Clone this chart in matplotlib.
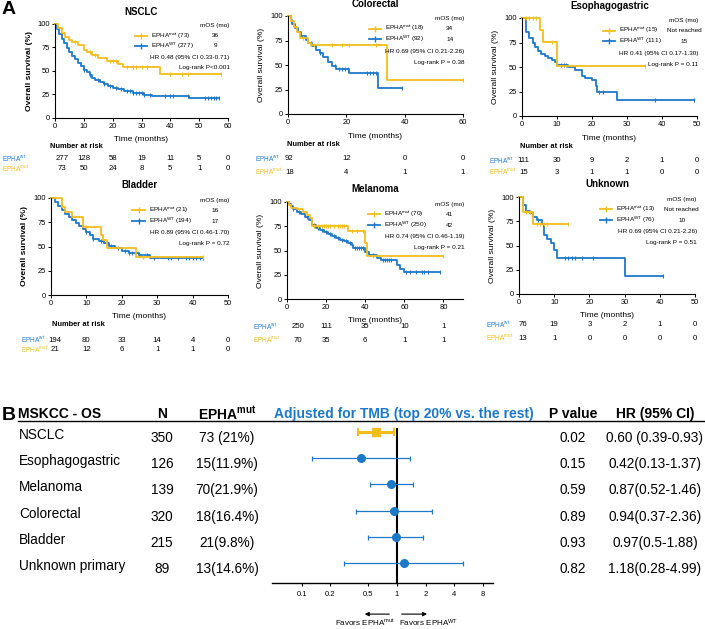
import numpy as np
import matplotlib
matplotlib.use('Agg')
import matplotlib.pyplot as plt
import matplotlib.transforms as mtransforms
from matplotlib.lines import Line2D

plt.rcParams['font.family'] = ['Liberation Sans', 'DejaVu Sans']
plt.rcParams['mathtext.fontset'] = 'custom'
plt.rcParams['mathtext.rm'] = 'Liberation Sans'
plt.rcParams['mathtext.it'] = 'Liberation Sans:italic'
plt.rcParams['mathtext.bf'] = 'Liberation Sans:bold'
plt.rcParams['mathtext.default'] = 'regular'

YEL = '#F2BE1C'
BLUE = '#1E78C8'
W, H = 705, 629

# ---------------- Panel A: Kaplan-Meier data ----------------
# NSCLC
nsclc_mut_t = [0, 1, 2.3, 3.5, 5, 6, 8, 10, 11, 13, 15, 18, 22, 23.5, 36.3]
nsclc_mut_s = [100, 95, 90, 86, 83, 80, 77, 72, 70, 67, 63, 60, 57, 54, 46]
nsclc_mut_cens = [7, 12, 14, 19, 20, 21, 25, 27, 28, 30, 32, 40, 44, 46, 57.5]
nsclc_wt_t = [0, 0.8, 1.5, 2.3, 3, 4, 5, 6, 7, 8, 9, 10, 11, 12, 13, 14, 15.5, 17, 18.5, 20, 22, 24, 27, 31, 33.5, 46.5]
nsclc_wt_s = [100, 94, 89, 84, 79, 74, 70, 66, 62, 58, 55, 51, 48, 45, 42, 40, 38, 36, 34, 32, 30, 28, 26, 24.5, 23, 20.5]
nsclc_wt_cens = [10, 12, 15, 17, 19, 21, 23, 25, 26, 27, 28, 29, 30, 31, 33, 38, 40, 41, 46, 52, 53, 54, 55, 56, 57]
nsclc_risk_wt = [277, 128, 58, 19, 11, 5, 0]
nsclc_risk_mut = [73, 50, 24, 8, 5, 1, 0]

# Colorectal
crc_mut_t = [0, 1, 2, 3, 4, 7, 8, 34]
crc_mut_s = [100, 94.4, 88.9, 83.3, 77.8, 72.2, 69.9, 35]
crc_mut_cens = [5, 9, 15, 18.5, 21, 30, 60]
crc_wt_t = [0, 1, 1.5, 2.5, 3.5, 4.5, 6, 7, 8.2, 9.7, 10.9, 12, 13.7, 15, 16.5, 21, 31]
crc_wt_s = [100, 96, 92, 88, 84, 80, 76, 72, 69, 65, 62, 58, 53, 49, 46, 41.5, 27]
crc_wt_cens = [8, 11, 16, 17.5, 18.5, 19.5, 20.5, 27, 28, 29, 30, 39]
crc_risk_wt = [92, 12, 0, 0]
crc_risk_mut = [18, 4, 1, 1]

# Esophagogastric
eg_mut_t = [0, 5, 6, 10]
eg_mut_s = [100, 88, 76, 51]
eg_mut_cens = [1, 2, 3, 4, 8.5, 35]
eg_wt_t = [0, 1, 2, 3, 3.7, 4.5, 5.5, 6.5, 7.5, 8.5, 9.5, 10, 13, 15, 17, 18, 20, 21, 21.5, 27]
eg_wt_s = [100, 86, 80, 75, 70, 66, 63, 61, 59, 57, 55, 52, 50, 47, 41, 39, 37, 31, 25, 16]
eg_wt_cens = [11, 12, 12.5, 22, 23, 38, 49]
eg_risk_wt = [111, 30, 9, 2, 1, 0]
eg_risk_mut = [15, 3, 1, 1, 0, 0]

# Bladder
bl_mut_t = [0, 3, 4, 6, 9, 14, 14.8, 15.8, 24]
bl_mut_s = [100, 90.5, 85.7, 80, 70, 62, 57, 48, 39.5]
bl_mut_cens = [10, 26, 43]
bl_wt_t = [0, 1, 2, 3, 4, 5, 6, 7, 8, 9, 10, 11, 12, 13.5, 15, 16.5, 18, 20, 22, 25, 28]
bl_wt_s = [100, 96, 92, 88, 84, 80, 77, 74, 71, 68, 65, 62, 58, 56, 54, 51, 48, 45, 43, 41.5, 38]
bl_wt_cens = [10, 12, 14, 17, 19, 21, 22, 23, 25, 27, 29, 33, 34, 36, 38, 39, 40, 41, 42, 43]
bl_risk_wt = [194, 80, 33, 14, 4, 0]
bl_risk_mut = [21, 12, 6, 1, 1, 0]

# Melanoma
mel_mut_t = [0, 1, 2, 5, 8, 10, 12, 13, 31, 40, 41]
mel_mut_s = [100, 97, 94, 93, 90, 87, 83, 75, 70, 58, 44]
mel_mut_cens = [14, 16, 18, 19, 20, 21, 22, 24, 26, 27, 28, 29, 33, 36, 39, 80]
mel_wt_t = [0, 1, 2, 3, 5, 7, 9, 11, 13, 15, 17, 19, 21, 23, 25, 27, 29, 31, 33, 34, 40, 42, 46, 48, 56, 58, 60]
mel_wt_s = [100, 98, 96, 93, 90, 88, 85, 81, 76, 73, 71, 69, 67, 65, 63, 61, 60, 58, 56, 53, 48, 45, 42, 40, 35, 31, 28]
mel_wt_cens = [3, 6, 10, 14, 16, 18, 20, 22, 24, 26, 28, 30, 32, 35, 36, 37, 38, 39, 44, 49, 50, 51, 52, 53, 61, 63, 66, 69, 70, 72, 78]
mel_risk_wt = [250, 111, 35, 10, 1]
mel_risk_mut = [70, 35, 6, 1, 1]

# Unknown primary
unk_mut_t = [0, 1, 4]
unk_mut_s = [100, 84.6, 72.5]
unk_mut_cens = [2, 3, 5, 6, 7, 8, 14]
unk_wt_t = [0, 1, 2, 3, 4, 5, 6.4, 7, 8, 9, 10, 10.8, 30]
unk_wt_s = [100, 92, 86, 83, 79, 76, 72, 61, 57, 53, 45, 37.5, 18.7]
unk_wt_cens = [5.5, 13, 14, 15, 16, 18, 21, 41]
unk_risk_wt = [76, 19, 3, 2, 1, 0]
unk_risk_mut = [13, 1, 0, 0, 0, 0]

# ---------------- Panel B: forest plot data ----------------
fp_labels = ['NSCLC', 'Esophagogastric', 'Melanoma', 'Colorectal', 'Bladder', 'Unknown primary']
fp_n = [350, 126, 139, 320, 215, 89]
fp_mut = ['73 (21%)', '15(11.9%)', '70(21.9%)', '18(16.4%)', '21(9.8%)', '13(14.6%)']
fp_hr = [0.60, 0.42, 0.87, 0.94, 0.97, 1.18]
fp_lo = [0.39, 0.13, 0.52, 0.37, 0.50, 0.28]
fp_hi = [0.93, 1.37, 1.46, 2.36, 1.88, 4.99]
fp_p = ['0.02', '0.15', '0.59', '0.89', '0.93', '0.82']
fp_hr_txt = ['0.60 (0.39-0.93)', '0.42(0.13-1.37)', '0.87(0.52-1.46)',
             '0.94(0.37-2.36)', '0.97(0.5-1.88)', '1.18(0.28-4.99)']

fig = plt.figure(figsize=(W / 100, H / 100), dpi=100)


def px_axes(x0, x1, ytop, ybot):
    return fig.add_axes([x0 / W, 1 - ybot / H, (x1 - x0) / W, (ybot - ytop) / H])


def fy(py):
    return 1 - py / H


def step_at(t, s, q):
    idx = np.searchsorted(t, q, side='right') - 1
    return np.asarray(s)[idx]


def km_panel(cfg):
    x0, x1, yt, yb = cfg['box']
    ax = px_axes(x0, x1, yt, yb)
    for t, s, cens, c in [(cfg['wt_t'], cfg['wt_s'], cfg['wt_c'], BLUE),
                          (cfg['mut_t'], cfg['mut_s'], cfg['mut_c'], YEL)]:
        end = max(cens)
        ax.step(np.r_[t, end], np.r_[s, s[-1]], where='post', color=c, lw=1.3, clip_on=False)
        ax.plot(cens, step_at(t, s, cens), ls='none', marker='|', ms=3.5, mew=0.8,
                color=c, clip_on=False)
    ax.set_xlim(0, cfg['xlim'])
    ax.set_ylim(0, 100)
    ax.set_xticks(cfg['ticks'])
    ax.set_yticks([0, 25, 50, 75, 100])
    for sp in ['top', 'right']:
        ax.spines[sp].set_visible(False)
    for sp in ['left', 'bottom']:
        ax.spines[sp].set_linewidth(0.8)
    ax.tick_params(labelsize=5.4, length=2, width=0.7, pad=1.5)
    ax.set_xlabel('Time (months)', fontsize=6)
    ax.xaxis.set_label_coords(0.5, -0.19)
    ax.set_ylabel('Overall survival (%)', fontsize=6.1,
                  fontweight='bold' if cfg['ybold'] else 'normal')
    ax.yaxis.set_label_coords(-0.13, 0.5)
    fig.text((x0 + x1) / 2 / W, fy(cfg['title_y']), cfg['title'], ha='center', va='center',
             fontsize=7, fontweight='bold')

    # legend keys drawn by hand so rows sit where the reference has them
    fs = 4.6
    for ky, c, lab, mos in [(0.872, YEL, cfg['leg'][0], cfg['mos'][0]),
                            (0.762, BLUE, cfg['leg'][1], cfg['mos'][1])]:
        ax.add_line(Line2D([0.46, 0.495, 0.53], [ky, ky, ky], transform=ax.transAxes, color=c,
                           lw=1.3, marker='|', ms=4, mew=1, markevery=[1], clip_on=False))
        ax.text(0.553, ky, lab, transform=ax.transAxes, ha='left', va='center', fontsize=fs)
        ax.text(0.925, ky, mos, transform=ax.transAxes, ha='center', va='center', fontsize=fs)
    ax.text(1.01, 0.975, 'mOS (mo)', transform=ax.transAxes, ha='right', va='center', fontsize=fs)
    ax.text(1.01, 0.64, cfg['hr'], transform=ax.transAxes, ha='right', va='center', fontsize=fs)
    ax.text(1.01, 0.53, cfg['lr'], transform=ax.transAxes, ha='right', va='center', fontsize=fs)

    # number at risk table
    tr = mtransforms.blended_transform_factory(ax.transData, fig.transFigure)
    if cfg['nar_y'] is not None:
        fig.text(cfg['nar_x'] / W, fy(cfg['nar_y']), 'Number at risk', ha='left', va='center',
                 fontsize=5.4, fontweight='bold')
    fig.text(cfg['lab_x'] / W, fy(cfg['row_y'][0]), 'EPHA$^{wt}$', color=BLUE, ha='left',
             va='center', fontsize=4.7)
    fig.text(cfg['lab_x'] / W, fy(cfg['row_y'][1]), 'EPHA$^{mut}$', color=YEL, ha='left',
             va='center', fontsize=4.7)
    for row, py in zip([cfg['risk_wt'], cfg['risk_mut']], cfg['row_y']):
        for i, (tk, v) in enumerate(zip(cfg['ticks'], row)):
            xx = tk + (cfg['first_dx'] if i == 0 else 0)
            ax.text(xx, fy(py), str(v), transform=tr, ha='center', va='center', fontsize=5.6)
    return ax


panels = [
    dict(box=(55, 228, 23.5, 117.7), xlim=60, ticks=list(range(0, 61, 10)), title='NSCLC', title_y=12,
         mut_t=nsclc_mut_t, mut_s=nsclc_mut_s, mut_c=nsclc_mut_cens,
         wt_t=nsclc_wt_t, wt_s=nsclc_wt_s, wt_c=nsclc_wt_cens,
         leg=['EPHA$^{mut}$ (73)', 'EPHA$^{WT}$ (277)'], mos=['36', '9'],
         hr='HR 0.48 (95% CI 0.33-0.71)', lr='Log-rank P<0.001',
         risk_wt=nsclc_risk_wt, risk_mut=nsclc_risk_mut, nar_x=50, nar_y=146,
         lab_x=2, row_y=(159, 169), first_dx=2.4, ybold=True),
    dict(box=(288, 463, 16, 114), xlim=60, ticks=[0, 20, 40, 60], title='Colorectal', title_y=4,
         mut_t=crc_mut_t, mut_s=crc_mut_s, mut_c=crc_mut_cens,
         wt_t=crc_wt_t, wt_s=crc_wt_s, wt_c=crc_wt_cens,
         leg=['EPHA$^{mut}$ (18)', 'EPHA$^{WT}$ (92)'], mos=['34', '14'],
         hr='HR 0.69 (95% CI 0.21-2.26)', lr='Log-rank P = 0.38',
         risk_wt=crc_risk_wt, risk_mut=crc_risk_mut, nar_x=287, nar_y=144,
         lab_x=255, row_y=(159, 172), first_dx=0.5, ybold=False),
    dict(box=(522, 697, 18, 116), xlim=50, ticks=list(range(0, 51, 10)), title='Esophagogastric', title_y=6,
         mut_t=eg_mut_t, mut_s=eg_mut_s, mut_c=eg_mut_cens,
         wt_t=eg_wt_t, wt_s=eg_wt_s, wt_c=eg_wt_cens,
         leg=['EPHA$^{mut}$ (15)', 'EPHA$^{WT}$ (111)'], mos=['Not reached', '15'],
         hr='HR 0.41 (95% CI 0.17-1.30)', lr='Log-rank P = 0.11',
         risk_wt=eg_risk_wt, risk_mut=eg_risk_mut, nar_x=520, nar_y=146,
         lab_x=489, row_y=(161, 172), first_dx=0.5, ybold=False),
    dict(box=(51, 228, 198, 295), xlim=50, ticks=list(range(0, 51, 10)), title='Bladder', title_y=185,
         mut_t=bl_mut_t, mut_s=bl_mut_s, mut_c=bl_mut_cens,
         wt_t=bl_wt_t, wt_s=bl_wt_s, wt_c=bl_wt_cens,
         leg=['EPHA$^{mut}$ (21)', 'EPHA$^{WT}$ (194)'], mos=['16', '17'],
         hr='HR 0.89 (95% CI 0.46-1.70)', lr='Log-rank P = 0.72',
         risk_wt=bl_risk_wt, risk_mut=bl_risk_mut, nar_x=52, nar_y=325,
         lab_x=21, row_y=(340, 350), first_dx=1.0, ybold=True),
    dict(box=(287, 463, 202, 299), xlim=90, ticks=list(range(0, 81, 20)), title='Melanoma', title_y=189,
         mut_t=mel_mut_t, mut_s=mel_mut_s, mut_c=mel_mut_cens,
         wt_t=mel_wt_t, wt_s=mel_wt_s, wt_c=mel_wt_cens,
         leg=['EPHA$^{mut}$ (70)', 'EPHA$^{WT}$ (250)'], mos=['41', '42'],
         hr='HR 0.74 (95% CI 0.46-1.19)', lr='Log-rank P = 0.21',
         risk_wt=mel_risk_wt, risk_mut=mel_risk_mut, nar_x=None, nar_y=None,
         lab_x=253, row_y=(327, 340), first_dx=5.6, ybold=False),
    dict(box=(519, 695, 197, 294), xlim=50, ticks=list(range(0, 51, 10)), title='Unknown', title_y=184,
         mut_t=unk_mut_t, mut_s=unk_mut_s, mut_c=unk_mut_cens,
         wt_t=unk_wt_t, wt_s=unk_wt_s, wt_c=unk_wt_cens,
         leg=['EPHA$^{mut}$ (13)', 'EPHA$^{WT}$ (76)'], mos=['Not reached', '10'],
         hr='HR 0.69 (95% CI 0.21-2.26)', lr='Log-rank P = 0.51',
         risk_wt=unk_risk_wt, risk_mut=unk_risk_mut, nar_x=None, nar_y=None,
         lab_x=486, row_y=(325, 338), first_dx=1.0, ybold=False),
]

for cfg in panels:
    km_panel(cfg)

fig.text(2 / W, fy(10), 'A', fontsize=14, fontweight='bold', ha='left', va='center')
fig.text(2 / W, fy(415), 'B', fontsize=14, fontweight='bold', ha='left', va='center')

# ---------------- Panel B: forest plot ----------------
axf = px_axes(272, 493, 421, 583)
axf.set_xscale('log')
axf.set_xlim(0.049, 10.2)
axf.set_ylim(5.76, -0.42)
rows = np.arange(len(fp_labels))
for i in rows:
    err = [[fp_hr[i] - fp_lo[i]], [fp_hi[i] - fp_hr[i]]]
    if i == 0:
        axf.errorbar(fp_hr[i], i, xerr=err, fmt='s', color=YEL, ms=6, lw=2.2,
                     capsize=3, capthick=1.5, zorder=3)
    else:
        axf.errorbar(fp_hr[i], i, xerr=err, fmt='o', color=BLUE, ms=5.5, lw=0.9,
                     capsize=1.8, capthick=0.9, zorder=3)
axf.vlines(1, -0.15, 5.76, color='black', lw=1.5, zorder=2)
for sp in ['top', 'right', 'left']:
    axf.spines[sp].set_visible(False)
axf.spines['bottom'].set_linewidth(1.0)
axf.set_yticks([])
ticks = [0.1, 0.2, 0.5, 1, 2, 4, 8]
axf.set_xticks(ticks)
axf.set_xticklabels(['0.1', '0.2', '0.5', '1', '2', '4', '8'])
axf.minorticks_off()
axf.tick_params(axis='x', labelsize=5.5, length=2.5, width=0.8, pad=3)

arrow_y = 5 + (614 - 563) / 26.2
axf.annotate('', xy=(0.43, arrow_y), xytext=(0.89, arrow_y), annotation_clip=False,
             arrowprops=dict(arrowstyle='-|>', color='black', lw=0.8, mutation_scale=6))
axf.annotate('', xy=(2.22, arrow_y), xytext=(1.05, arrow_y), annotation_clip=False,
             arrowprops=dict(arrowstyle='-|>', color='black', lw=0.8, mutation_scale=6))
fig.text(395 / W, fy(623), 'Favors EPHA$^{mut}$', ha='right', va='center', fontsize=5.8)
fig.text(399 / W, fy(623), 'Favors EPHA$^{WT}$', ha='left', va='center', fontsize=5.8)

# table text
hdr_y = fy(414)
HFS = 10
fig.text(18 / W, hdr_y, 'MSKCC - OS', ha='left', va='center', fontsize=HFS, fontweight='bold')
fig.text(162 / W, hdr_y, 'N', ha='center', va='center', fontsize=HFS, fontweight='bold')
fig.text(227 / W, hdr_y, 'EPHA$^{\\mathbf{mut}}$', ha='center', va='center', fontsize=HFS, fontweight='bold')
fig.text(404 / W, hdr_y, 'Adjusted for TMB (top 20% vs. the rest)', ha='center', va='center',
         fontsize=HFS, fontweight='bold', color=BLUE)
fig.text(573 / W, hdr_y, 'P value', ha='center', va='center', fontsize=HFS, fontweight='bold')
fig.text(655 / W, hdr_y, 'HR (95% CI)', ha='center', va='center', fontsize=HFS, fontweight='bold')
fig.add_artist(Line2D([18 / W, 1.0], [fy(421), fy(421)], color='black', lw=1.0))

RFS = 9.8
row_py = [432 + 26.2 * i for i in rows]
for i in rows:
    fig.text(19 / W, fy(row_py[i] + 3), fp_labels[i], ha='left', va='center', fontsize=RFS)
    fig.text(162 / W, fy(row_py[i] + 6), str(fp_n[i]), ha='center', va='center', fontsize=RFS)
    fig.text(227 / W, fy(row_py[i] + 6), fp_mut[i], ha='center', va='center', fontsize=RFS)
    fig.text(573 / W, fy(row_py[i] + 6), fp_p[i], ha='center', va='center', fontsize=RFS)
    fig.text(655 / W, fy(row_py[i] + 6), fp_hr_txt[i], ha='center', va='center', fontsize=RFS)

fig.savefig('out.png', dpi=100)
